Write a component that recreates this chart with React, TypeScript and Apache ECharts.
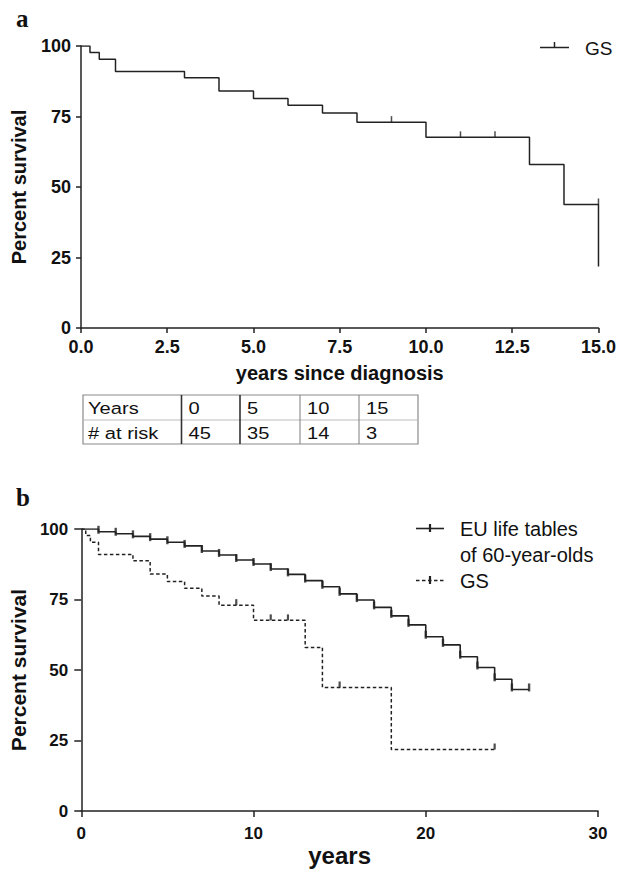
import React, { useEffect, useRef } from "react";
import * as echarts from "echarts";

// ---- Data ----
const gsTimes = [0, 0.26, 0.53, 1, 3, 4, 5, 6, 7, 8, 10, 13, 14];
const gsSurvival = [100, 97.7, 95.3, 91.0, 88.7, 84.0, 81.4, 79.0, 76.2, 73.0, 67.6, 58.0, 43.8];
const gsATailTimes = [15];
const gsATailSurvival = [21.8];
const gsBTailTimes = [18, 24];
const gsBTailSurvival = [21.8, 21.8];
const gsACensorTimes = [9, 11, 12, 15];
const gsACensorSurvival = [73.0, 67.6, 67.6, 43.8];
const gsBCensorTimes = [9, 11, 12, 15, 24];
const gsBCensorSurvival = [73.0, 67.6, 67.6, 43.8, 21.8];
const euYears = [0, 1, 2, 3, 4, 5, 6, 7, 8, 9, 10, 11, 12, 13, 14, 15, 16, 17, 18, 19, 20, 21, 22, 23, 24, 25, 26];
const euSurvival = [100, 99.0, 98.3, 97.4, 96.4, 95.3, 94.0, 92.2, 90.8, 89.0, 87.6, 85.8, 83.9, 81.7, 79.5, 77.0, 74.8, 72.2, 69.2, 66.0, 61.8, 58.9, 54.7, 50.9, 46.7, 43.1, 43.1];
const riskYears = ["0", "5", "10", "15"];
const atRisk = ["45", "35", "14", "3"];

const INK = "#222";
const SANS = '"Liberation Sans", Arial, sans-serif';

const zip = (xs: number[], ys: number[]) => xs.map((x, i) => [x, ys[i]]);

export default function App() {
  const ref = useRef<HTMLDivElement>(null);
  useEffect(() => {
    if (!ref.current) return;
    const chart = echarts.init(ref.current, undefined, { renderer: "svg" });

    const axisLine = { show: true, lineStyle: { color: INK, width: 1.5 } };
    const boldLabel = (size: number, margin: number, fmt?: (v: number) => string) => ({
      fontSize: size,
      fontWeight: "bold" as const,
      fontFamily: SANS,
      color: "#111",
      margin,
      formatter: fmt,
    });

    // table graphics
    const colX = [83, 181.5, 240, 300, 359, 418];
    const rowY = [395, 420, 444];
    const tableEls: any[] = [];
    tableEls.push({
      type: "rect",
      shape: { x: colX[0], y: rowY[0], width: colX[5] - colX[0], height: rowY[2] - rowY[0] },
      style: { fill: "none", stroke: "#8a8a8a", lineWidth: 1.2 },
    });
    tableEls.push({
      type: "line",
      shape: { x1: colX[0], y1: rowY[1], x2: colX[5], y2: rowY[1] },
      style: { stroke: "#bbb", lineWidth: 1 },
    });
    for (let i = 1; i < 5; i++) {
      tableEls.push({
        type: "line",
        shape: { x1: colX[i], y1: rowY[0], x2: colX[i], y2: rowY[2] },
        style: { stroke: i <= 2 ? "#333" : "#888", lineWidth: i <= 2 ? 1.6 : 1.1 },
      });
    }
    const cellText = (t: string, x: number, y: number) => ({
      type: "text",
      x,
      y,
      scaleX: 1.22,
      style: { text: t, x: 0, y: 0, fontSize: 16.5, fontFamily: SANS, fill: "#111", verticalAlign: "middle" },
    });
    const r1 = (rowY[0] + rowY[1]) / 2 + 1;
    const r2 = (rowY[1] + rowY[2]) / 2 + 1;
    tableEls.push(cellText("Years", colX[0] + 5, r1));
    tableEls.push(cellText("# at risk", colX[0] + 5, r2));
    riskYears.forEach((t, i) => tableEls.push(cellText(t, colX[i + 1] + 7, r1)));
    atRisk.forEach((t, i) => tableEls.push(cellText(t, colX[i + 1] + 7, r2)));

    const legendEls: any[] = [
      // panel a legend
      { type: "line", shape: { x1: 540, y1: 47.5, x2: 569, y2: 47.5 }, style: { stroke: INK, lineWidth: 1.5 } },
      { type: "line", shape: { x1: 554.5, y1: 42, x2: 554.5, y2: 47.5 }, style: { stroke: INK, lineWidth: 1.5 } },
      { type: "text", x: 585, y: 48, style: { text: "GS", fontSize: 19, fontFamily: SANS, fill: "#111", verticalAlign: "middle" } },
      // panel b legend
      { type: "line", shape: { x1: 416, y1: 528.5, x2: 444, y2: 528.5 }, style: { stroke: INK, lineWidth: 1.6 } },
      { type: "line", shape: { x1: 430, y1: 524, x2: 430, y2: 532 }, style: { stroke: INK, lineWidth: 2.2 } },
      { type: "text", x: 460, y: 529, style: { text: "EU life tables", fontSize: 20, fontFamily: SANS, fill: "#111", verticalAlign: "middle" } },
      { type: "text", x: 460, y: 555, style: { text: "of 60-year-olds", fontSize: 20, fontFamily: SANS, fill: "#111", verticalAlign: "middle" } },
      { type: "line", shape: { x1: 416, y1: 580.5, x2: 444, y2: 580.5 }, style: { stroke: INK, lineWidth: 1.5, lineDash: [3.5, 2.5] } },
      { type: "line", shape: { x1: 430, y1: 576, x2: 430, y2: 584 }, style: { stroke: INK, lineWidth: 2.2 } },
      { type: "text", x: 460, y: 581, style: { text: "GS", fontSize: 20, fontFamily: SANS, fill: "#111", verticalAlign: "middle" } },
      // panel letters
      { type: "text", x: 16, y: 18, style: { text: "a", fontSize: 25, fontWeight: "bold", fontFamily: '"Liberation Serif", "Times New Roman", serif', fill: "#111", verticalAlign: "middle" } },
      { type: "text", x: 16, y: 497, style: { text: "b", fontSize: 25, fontWeight: "bold", fontFamily: '"Liberation Serif", "Times New Roman", serif', fill: "#111", verticalAlign: "middle" } },
    ];

    const option: any = {
      animation: false,
      grid: [
        { left: 81, right: 20, top: 46, height: 282 },
        { left: 81, right: 21, top: 529, height: 282 },
      ],
      xAxis: [
        {
          gridIndex: 0, type: "value", min: 0, max: 15, interval: 2.5,
          axisLine, axisTick: { show: true, length: 5, lineStyle: { color: INK, width: 1.5 } },
          splitLine: { show: false },
          axisLabel: boldLabel(18, 10, (v: number) => v.toFixed(1)),
          name: "years since diagnosis", nameLocation: "middle", nameGap: 35,
          nameTextStyle: { fontSize: 20, fontWeight: "bold", fontFamily: SANS, color: "#111" },
        },
        {
          gridIndex: 1, type: "value", min: 0, max: 30, interval: 10,
          axisLine, axisTick: { show: true, length: 6, lineStyle: { color: INK, width: 1.5 } },
          splitLine: { show: false },
          axisLabel: boldLabel(17, 14),
          name: "years", nameLocation: "middle", nameGap: 32,
          nameTextStyle: { fontSize: 24, fontWeight: "bold", fontFamily: SANS, color: "#111" },
        },
      ],
      yAxis: [
        {
          gridIndex: 0, type: "value", min: 0, max: 100, interval: 25,
          axisLine, axisTick: { show: true, length: 5, lineStyle: { color: INK, width: 1.5 } },
          splitLine: { show: false },
          axisLabel: boldLabel(18, 10),
          name: "Percent survival", nameLocation: "middle", nameGap: 52,
          nameTextStyle: { fontSize: 20, fontWeight: "bold", fontFamily: SANS, color: "#111" },
        },
        {
          gridIndex: 1, type: "value", min: 0, max: 100, interval: 25,
          axisLine, axisTick: { show: true, length: 7, lineStyle: { color: INK, width: 1.5 } },
          splitLine: { show: false },
          axisLabel: boldLabel(17, 13),
          name: "Percent survival", nameLocation: "middle", nameGap: 52,
          nameTextStyle: { fontSize: 21, fontWeight: "bold", fontFamily: SANS, color: "#111" },
        },
      ],
      series: [
        {
          name: "GS", type: "line", xAxisIndex: 0, yAxisIndex: 0, step: "end", showSymbol: false, symbol: "none",
          data: zip([...gsTimes, ...gsATailTimes], [...gsSurvival, ...gsATailSurvival]),
          lineStyle: { color: INK, width: 1.5 }, silent: true,
        },
        {
          name: "GS censored", type: "scatter", xAxisIndex: 0, yAxisIndex: 0,
          data: zip(gsACensorTimes, gsACensorSurvival),
          symbol: "rect", symbolSize: [1.5, 6], symbolOffset: [0, -3],
          itemStyle: { color: INK }, silent: true,
        },
        {
          name: "EU life tables of 60-year-olds", type: "line", xAxisIndex: 1, yAxisIndex: 1, step: "end", showSymbol: false, symbol: "none",
          data: zip(euYears, euSurvival),
          lineStyle: { color: INK, width: 1.6 }, silent: true,
        },
        {
          name: "EU censored", type: "scatter", xAxisIndex: 1, yAxisIndex: 1,
          data: zip(euYears.slice(1), euSurvival.slice(1)),
          symbol: "rect", symbolSize: [2.4, 8], symbolOffset: [0, -2],
          itemStyle: { color: INK }, silent: true,
        },
        {
          name: "GS (b)", type: "line", xAxisIndex: 1, yAxisIndex: 1, step: "end", showSymbol: false, symbol: "none",
          data: zip([...gsTimes, ...gsBTailTimes], [...gsSurvival, ...gsBTailSurvival]),
          lineStyle: { color: INK, width: 1.5, type: [3.5, 2.5] }, silent: true,
        },
        {
          name: "GS (b) censored", type: "scatter", xAxisIndex: 1, yAxisIndex: 1,
          data: zip(gsBCensorTimes, gsBCensorSurvival),
          symbol: "rect", symbolSize: [2.2, 6], symbolOffset: [0, -3],
          itemStyle: { color: INK }, silent: true,
        },
      ],
      graphic: [...tableEls, ...legendEls],
    };
    chart.setOption(option);
    return () => chart.dispose();
  }, []);

  return (
    <div
      ref={ref}
      style={{ position: "absolute", left: 0, top: 0, width: 619, height: 879, background: "#fff" }}
    />
  );
}
